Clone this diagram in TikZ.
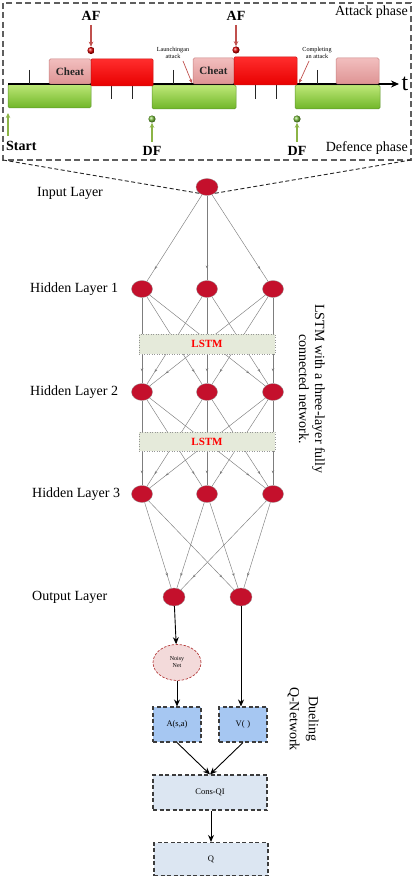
\documentclass[tikz,border=0pt]{standalone}
\usepackage{fontspec}
\setmainfont{Liberation Serif}
\usetikzlibrary{arrows.meta,decorations.markings,shapes.geometric,shadings}

\definecolor{nodered}{RGB}{196,16,44}
\definecolor{nodeedge}{RGB}{150,150,150}
\definecolor{linegray}{RGB}{125,125,125}
\definecolor{lstmfill}{RGB}{229,234,218}
\definecolor{afcol}{RGB}{192,80,77}
\definecolor{dfcol}{RGB}{140,180,70}
\definecolor{dfball}{RGB}{120,190,60}
\definecolor{gtop}{RGB}{190,232,120}
\definecolor{gbot}{RGB}{112,182,40}
\definecolor{gedge}{RGB}{95,150,45}
\definecolor{rtop}{RGB}{255,45,45}
\definecolor{rbot}{RGB}{232,0,0}
\definecolor{redge}{RGB}{200,20,20}
\definecolor{ptop}{RGB}{242,190,190}
\definecolor{pbot}{RGB}{222,148,148}
\definecolor{pedge}{RGB}{200,130,130}
\definecolor{boxgray}{RGB}{95,95,95}
\definecolor{noisyfill}{RGB}{243,218,218}
\definecolor{noisyedge}{RGB}{180,60,60}
\definecolor{abox}{RGB}{166,199,242}
\definecolor{cbox}{RGB}{220,230,242}
\definecolor{dboxedge}{RGB}{60,60,60}

\tikzset{
  greenbar/.style={top color=gtop, bottom color=gbot, draw=gedge, line width=0.5pt, rounded corners=1.5pt},
  redbar/.style={top color=rtop, bottom color=rbot, draw=redge, line width=0.5pt, rounded corners=1pt},
  pinkbar/.style={top color=ptop, bottom color=pbot, draw=pedge, line width=0.5pt, rounded corners=1.5pt},
  tickline/.style={line width=0.9pt, black!85},
  bigbold/.style={font=\fontsize{14}{16}\selectfont\bfseries, inner sep=0pt},
  tinytext/.style={font=\fontsize{6.2}{7}\selectfont, align=center, inner sep=0pt},
  phasetext/.style={font=\fontsize{14}{16}\selectfont, inner sep=0pt},
  afarrow/.style={draw=afcol, line width=1.1pt, -{Stealth[length=5pt,width=4.5pt]}},
  dfarrow/.style={draw=dfcol, line width=1.2pt, -{Stealth[length=5pt,width=4.5pt]}},
  neuron/.style={ellipse, fill=nodered, draw=nodeedge, line width=0.3pt, minimum width=21pt, minimum height=17pt, inner sep=0pt},
  netedge/.style={draw=linegray, line width=0.45pt, postaction={decorate},
    decoration={markings, mark=at position 0.86 with {\arrow{Stealth[length=3pt,width=2.6pt]}}}},
  lstmbox/.style={rectangle, fill=lstmfill, draw=nodeedge, dotted, line width=0.5pt, minimum width=136pt, inner sep=0pt,
    font=\fontsize{11}{12}\selectfont\bfseries, text=red},
  layerlabel/.style={anchor=west, inner sep=0pt, font=\fontsize{14}{16}\selectfont},
  sidelabel/.style={rotate=-90, align=center, inner sep=0pt},
  dbox/.style={rectangle, draw=dboxedge, dashed, dash pattern=on 4pt off 2.5pt, line width=1.1pt, inner sep=0pt, font=\fontsize{8.5}{10}\selectfont},
  blackarrow/.style={draw=black, line width=0.9pt, -{Stealth[length=7pt,width=6pt]}},
  zoomline/.style={dash pattern=on 4pt off 2.5pt, line width=0.9pt, black!85},
  afball/.style={circle, inner sep=0pt, minimum size=7.2pt, ball color=red!85!black},
  dfball/.style={circle, inner sep=0pt, minimum size=7.2pt, ball color=dfball},
}

\begin{document}
\begin{tikzpicture}[x=1pt,y=-1pt]
\useasboundingbox (0,0) rectangle (414,877);

% ---------- top timeline box ----------
\draw[draw=boxgray, line width=1.3pt, dash pattern=on 6pt off 3.5pt] (3,3) rectangle (411,160);
\node[phasetext, anchor=east] (attack) at (408,12) {Attack phase};
\node[phasetext, anchor=east] (defence) at (408,148) {Defence phase};

% green bars (defence)
\draw[greenbar] (8,84) rectangle (91,108);
\draw[greenbar] (152,85) rectangle (236,109);
\draw[greenbar] (295,85) rectangle (380,109);

% axis
\draw[line width=1.1pt, -{Stealth[length=8pt,width=7pt]}] (8,84) -- (399,84);
\node[anchor=base, inner sep=0pt, font=\fontsize{24}{26}\selectfont] (t) at (405,91) {t};

% ticks
\foreach \x in {29,173,317} \draw[tickline] (\x,70) -- (\x,84);
\foreach \x in {111,132,255,276} \draw[tickline] (\x,84) -- (\x,99);

% pink cheat boxes
\draw[pinkbar] (49,59) rectangle (91,84);
\node[font=\fontsize{11}{12}\selectfont\bfseries, text=black!85, inner sep=0pt] (cheat1) at (70,71.5) {Cheat};
\draw[pinkbar] (193,58) rectangle (234,84);
\node[font=\fontsize{11}{12}\selectfont\bfseries, text=black!85, inner sep=0pt] (cheat2) at (213.5,71) {Cheat};
\draw[pinkbar] (336,58) rectangle (379,84);

% red attack bars
\draw[redbar] (91,59) rectangle (153,86);
\draw[redbar] (234,57) rectangle (297,85);

% AF markers
\node[bigbold] (af1) at (91,16) {AF};
\node[afball] (af1dot) at (91,50.5) {};
\draw[afarrow] (91,25) -- (af1dot.north);
\node[bigbold] (af2) at (236,16) {AF};
\node[afball] (af2dot) at (236,50) {};
\draw[afarrow] (236,25) -- (af2dot.north);

% DF markers
\node[bigbold] (df1) at (152,151) {DF};
\node[dfball] (df1dot) at (152,119) {};
\draw[dfarrow] (152,142) -- (df1dot.south);
\node[bigbold] (df2) at (297,151) {DF};
\node[dfball] (df2dot) at (297,119) {};
\draw[dfarrow] (297,142) -- (df2dot.south);

% Start
\node[bigbold, anchor=west] (start) at (6,146) {Start};
\coordinate (starttip) at (8,113);
\draw[dfarrow] (8,136) -- (starttip);

% small annotations
\node[tinytext] (launch) at (173,53) {Launchingan\\attack};
\coordinate (launchtip) at (192,83);
\draw[draw=afcol, line width=0.7pt, -{Stealth[length=4pt,width=3.5pt]}] (183,61) -- (launchtip);
\node[tinytext] (complete) at (317,53) {Completing\\an attack};
\coordinate (completetip) at (299,83);
\draw[draw=afcol, line width=0.7pt, -{Stealth[length=4pt,width=3.5pt]}] (309,61) -- (completetip);

% ---------- neural network ----------
\node[neuron, minimum width=22pt] (in) at (207,187) {};
\node[neuron] (h11) at (142,289) {};
\node[neuron] (h12) at (207,289) {};
\node[neuron] (h13) at (273,289) {};
\node[neuron] (h21) at (142,392) {};
\node[neuron] (h22) at (207,392) {};
\node[neuron] (h23) at (273,392) {};
\node[neuron] (h31) at (142,494) {};
\node[neuron] (h32) at (207,494) {};
\node[neuron] (h33) at (273,494) {};
\node[neuron, minimum width=22pt, minimum height=18pt] (o1) at (174,597) {};
\node[neuron, minimum width=22pt, minimum height=18pt] (o2) at (241,597) {};

% dashed zoom lines
\draw[zoomline] (3,160) -- (in.220);
\draw[zoomline] (411,160) -- (in.-40);

% edges
\foreach \b in {h11,h12,h13} \draw[netedge] (in) -- (\b);
\foreach \a in {h11,h12,h13} {\foreach \b in {h21,h22,h23} {\draw[netedge] (\a) -- (\b);}}
\foreach \a in {h21,h22,h23} {\foreach \b in {h31,h32,h33} {\draw[netedge] (\a) -- (\b);}}
\foreach \a in {h31,h32,h33} {\foreach \b in {o1,o2} {\draw[netedge] (\a) -- (\b);}}

% LSTM boxes
\node[lstmbox, minimum height=20pt] (lstm1) at (207,344) {LSTM};
\node[lstmbox, minimum height=19pt] (lstm2) at (207,441.5) {LSTM};

% layer labels
\node[layerlabel] (linput) at (37,193) {Input Layer};
\node[layerlabel] (lh1) at (30,289) {Hidden Layer 1};
\node[layerlabel] (lh2) at (30,392) {Hidden Layer 2};
\node[layerlabel] (lh3) at (32,494) {Hidden Layer 3};
\node[layerlabel] (lout) at (32,597) {Output Layer};

\node[sidelabel, font=\fontsize{14}{16}\selectfont] (lstmnote) at (312,389) {LSTM with a three-layer fully\\connected network.};

% ---------- dueling network ----------
\node[ellipse, fill=noisyfill, draw=noisyedge, dash pattern=on 2.5pt off 1.5pt, line width=0.7pt,
      minimum width=48pt, minimum height=36pt, inner sep=0pt, align=center, font=\fontsize{6}{7}\selectfont] (noisy) at (177,662.5) {Noisy\\Net};
\node[dbox, fill=abox, minimum width=48pt, minimum height=35pt] (A) at (177,724.5) {A(s,a)};
\node[dbox, fill=abox, minimum width=48pt, minimum height=35pt] (V) at (243,724.5) {V(\,\,)};
\node[dbox, fill=cbox, minimum width=114pt, minimum height=35pt] (cons) at (210,792.5) {Cons-QI};
\node[dbox, fill=cbox, minimum width=114pt, minimum height=33pt] (Q) at (211,859) {Q};

\draw[blackarrow] (o1) -- (noisy);
\draw[blackarrow] (noisy) -- (A);
\draw[blackarrow] (o2) -- (o2 |- V.north);
\draw[blackarrow] (A.south) -- (cons.north);
\draw[blackarrow] (V.south) -- (cons.north);
\draw[blackarrow] (cons.south -| Q.north) -- (Q.north);

\node[sidelabel, font=\fontsize{14}{19}\selectfont] (duel) at (303,719) {Dueling\\Q-Network};
\end{tikzpicture}
\end{document}
